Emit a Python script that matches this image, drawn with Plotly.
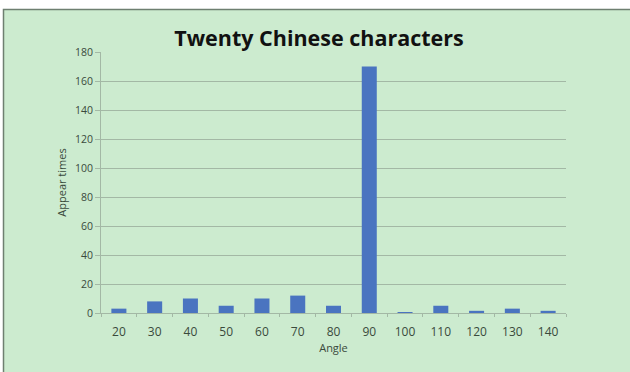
import plotly.graph_objects as go

angles = ["20", "30", "40", "50", "60", "70", "80", "90", "100", "110", "120", "130", "140"]
counts = [3, 8, 10, 5, 10, 12, 5, 170, 0.6, 5, 1.5, 3, 1.5]
y_ticks = [0, 20, 40, 60, 80, 100, 120, 140, 160, 180]

L, R, T, B = 101, 64, 52, 59
W, H = 630, 372
pw, ph = W - L - R, H - T - B

def px_x(p):
    return (p - L) / pw

def px_y(p):
    return (H - B - p) / ph

fig = go.Figure()
fig.add_trace(go.Bar(x=angles, y=counts, marker_color="#4A74C0", width=0.42,
                     marker_line_width=0))

fig.add_shape(type="rect", xref="paper", yref="paper",
              x0=px_x(3.5), x1=px_x(640), y0=px_y(9.5), y1=px_y(380),
              fillcolor="#CCEBCF", line=dict(color="#6E7F70", width=1.5), layer="below")

fig.update_layout(
    width=W, height=H,
    margin=dict(l=L, r=R, t=T, b=B),
    paper_bgcolor="white",
    plot_bgcolor="rgba(0,0,0,0)",
    title=dict(text="<b>Twenty Chinese characters</b>", x=319 / W, xref="container",
               y=1 - 38 / H, yref="container", xanchor="center", yanchor="middle",
               font=dict(family="Open Sans", size=21.5, color="#111111")),
    font=dict(family="Open Sans", color="#3A4A3C"),
    showlegend=False,
    bargap=0.58,
)
fig.update_xaxes(
    type="category",
    showline=True, linecolor="#A3B8A5", linewidth=1,
    ticks="outside", tickson="boundaries", ticklen=3, tickcolor="#A3B8A5",
    ticklabelstandoff=8,
    tickfont=dict(size=12, color="#3A4A3C"),
    title=dict(text="Angle", font=dict(size=11, color="#3A4A3C"), standoff=2),
    showgrid=False,
)
fig.update_yaxes(
    range=[0, 180], tickvals=y_ticks,
    showgrid=True, gridcolor="#A3B8A5", gridwidth=1,
    showline=True, linecolor="#A3B8A5",
    ticks="outside", ticklen=5, tickcolor="#A3B8A5",
    tickfont=dict(size=10.5, color="#3A4A3C"),
    title=dict(text="Appear times", font=dict(size=11, color="#3A4A3C"), standoff=6),
    zeroline=False,
)

fig.write_html("out.html")
